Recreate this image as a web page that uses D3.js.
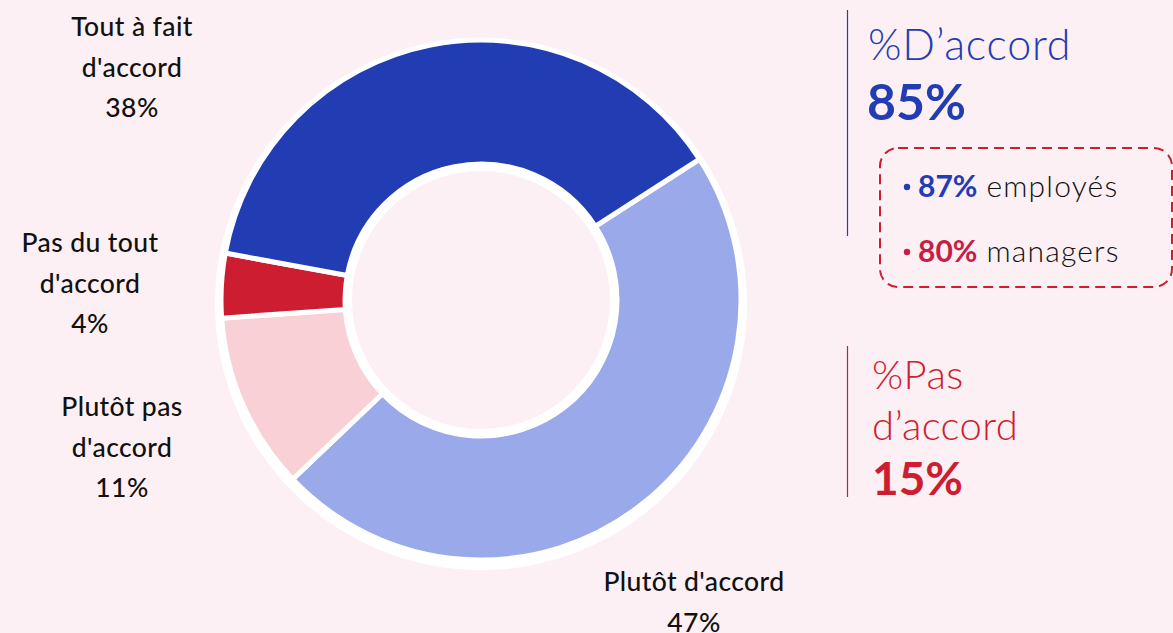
<!DOCTYPE html>
<html>
<head>
<meta charset="utf-8">
<script src="https://cdn.jsdelivr.net/npm/d3@7"></script>
<style>
  body { margin: 0; background: #fdf0f4; }
  svg { display: block; font-family: Lato, "Open Sans", sans-serif; }
</style>
</head>
<body>
<svg id="chart" width="1173" height="633"></svg>
<script>
// data
const categories = ["Plutôt d'accord", "Plutôt pas d'accord", "Pas du tout d'accord", "Tout à fait d'accord"];
const labelLines = [["Plutôt d'accord"], ["Plutôt pas", "d'accord"], ["Pas du tout", "d'accord"], ["Tout à fait", "d'accord"]];
const values = [47, 11, 4, 38];
const sliceColors = ["#99a9ea", "#f8d0d5", "#cc1e30", "#223cb4"];

const agreeTitle = "%D’accord";
const agreeTotal = 85;
const disagreeTitle = ["%Pas", "d’accord"];
const disagreeTotal = 15;
const groupNames = ["employés", "managers"];
const groupValues = [87, 80];
const groupColors = ["#223cb4", "#c81d45"];

// layout
const cx = 481, cy = 300, outerR = 260, innerR = 136;
const labelAnchors = [[694, 591], [122, 416], [90, 252], [132, 36]];
const lineGap = 40.5;

const svg = d3.select("#chart");
svg.append("rect").attr("width", 1173).attr("height", 633).attr("fill", "#fdf0f4");

const g = svg.append("g").attr("transform", `translate(${cx},${cy})`);

// white halo behind the ring (slightly lower, like the original)
g.append("circle").attr("cy", 4).attr("r", outerR + 6).attr("fill", "#ffffff");

const start = 57.2 * Math.PI / 180;
const pie = d3.pie().sort(null).value(d => d).startAngle(start).endAngle(start + 2 * Math.PI);
const arc = d3.arc().innerRadius(innerR).outerRadius(outerR);

g.selectAll("path.slice")
  .data(pie(values))
  .join("path")
  .attr("class", "slice")
  .attr("d", arc)
  .attr("fill", (d, i) => sliceColors[i])
  .attr("stroke", "#ffffff")
  .attr("stroke-width", 5)
  .attr("stroke-linejoin", "miter");

// hole
g.append("circle").attr("r", innerR - 3.5)
  .attr("fill", "#fdf0f4").attr("stroke", "#ffffff").attr("stroke-width", 7);

// slice labels
categories.forEach((c, i) => {
  const [x, y] = labelAnchors[i];
  const t = svg.append("text")
    .attr("text-anchor", "middle")
    .attr("font-size", 26.5)
    .attr("font-weight", 500)
    .attr("letter-spacing", 0.4)
    .attr("fill", "#111111");
  const lines = labelLines[i].concat([values[i] + "%"]);
  lines.forEach((l, k) => {
    t.append("tspan").attr("x", x).attr("y", y + k * lineGap).text(l);
  });
});

// right panel: agree
const blue = "#223cb4", red = "#cc1e30";
svg.append("line").attr("x1", 847.5).attr("x2", 847.5).attr("y1", 10).attr("y2", 236)
  .attr("stroke", blue).attr("stroke-width", 1.2);
svg.append("text").attr("x", 868).attr("y", 60).attr("font-size", 43).attr("font-weight", 300)
  .attr("letter-spacing", 0.8).attr("fill", blue).text(agreeTitle);
svg.append("text").attr("x", 867).attr("y", 120).attr("font-size", 50).attr("font-weight", 700)
  .attr("fill", blue).text(agreeTotal + "%");

svg.append("rect").attr("x", 880).attr("y", 148).attr("width", 292).attr("height", 139)
  .attr("rx", 18).attr("fill", "none").attr("stroke", red)
  .attr("stroke-width", 2).attr("stroke-dasharray", "10,6");

groupNames.forEach((n, i) => {
  const y = 197 + i * 65;
  svg.append("circle").attr("cx", 907).attr("cy", y - 10).attr("r", 3.2).attr("fill", groupColors[i]);
  const t = svg.append("text").attr("x", 918).attr("y", y).attr("font-size", 30);
  t.append("tspan").attr("font-weight", 700).attr("fill", groupColors[i]).text(groupValues[i] + "%");
  t.append("tspan").attr("dx", 9).attr("font-weight", 300).attr("letter-spacing", 1.2)
    .attr("fill", "#111111").text(n);
});

// right panel: disagree
svg.append("line").attr("x1", 847.5).attr("x2", 847.5).attr("y1", 346).attr("y2", 497)
  .attr("stroke", red).attr("stroke-width", 1.2);
disagreeTitle.forEach((l, k) => {
  svg.append("text").attr("x", 872).attr("y", 389 + k * 51).attr("font-size", 40).attr("font-weight", 300)
    .attr("letter-spacing", 0.4).attr("fill", red).text(l);
});
svg.append("text").attr("x", 872).attr("y", 495).attr("font-size", 46).attr("font-weight", 700)
  .attr("fill", red).text(disagreeTotal + "%");
</script>
</body>
</html>
